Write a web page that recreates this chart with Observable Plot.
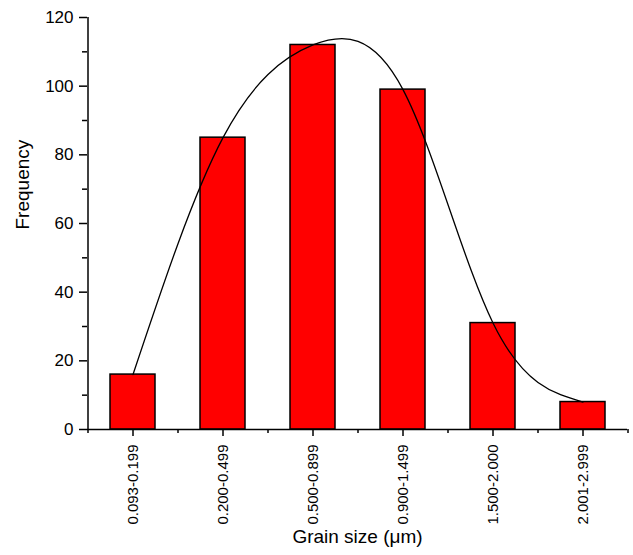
<!DOCTYPE html>
<html>
<head>
<meta charset="utf-8">
<script src="https://cdn.jsdelivr.net/npm/d3@7"></script>
<script src="https://cdn.jsdelivr.net/npm/@observablehq/plot@0.6"></script>
<style>
  html, body { margin: 0; padding: 0; background: white; }
  #chart svg { display: block; }
</style>
</head>
<body>
<div id="chart"></div>
<script>
const categories = ["0.093-0.199", "0.200-0.499", "0.500-0.899", "0.900-1.499", "1.500-2.000", "2.001-2.999"];
const frequency = [16, 85, 112, 99, 31, 8];
const yMajorTicks = [0, 20, 40, 60, 80, 100, 120];
const yMinorTicks = [10, 30, 50, 70, 90, 110];
const xLabel = "Grain size (\u03bcm)";
const yLabel = "Frequency";

const data = categories.map((c, i) => ({range: c, freq: frequency[i]}));

const W = 633, H = 555;
const mL = 87, mR = 6, mT = 17, mB = 126;
const halfStep = (W - mL - mR) / categories.length / 2;

const chart = Plot.plot({
  width: W, height: H,
  marginLeft: mL, marginRight: mR, marginTop: mT, marginBottom: mB,
  style: {fontFamily: "'Liberation Sans', Arial, sans-serif", color: "black", background: "white", overflow: "visible"},
  x: {domain: categories, paddingInner: 0.5, paddingOuter: 0.25, axis: null},
  y: {domain: [0, 120], axis: null},
  marks: [
    Plot.barY(data, {x: "range", y: "freq", fill: "#ff0000", stroke: "black", strokeWidth: 1.5}),
    Plot.line(data, {x: "range", y: "freq", curve: "natural", stroke: "black", strokeWidth: 1.3}),
    Plot.ruleY([0], {stroke: "black", strokeWidth: 1.5}),
    Plot.ruleX([categories[0]], {dx: -halfStep, y1: -1.2, y2: 120, stroke: "black", strokeWidth: 1.5}),
    Plot.ruleX(categories, {x: d => d, dx: halfStep, y1: 0, y2: -1.2, stroke: "black", strokeWidth: 1.5}),
    Plot.axisY({ticks: yMajorTicks, tickSize: 8, tickPadding: 6, fontSize: 17, label: null, strokeWidth: 1.5}),
    Plot.axisY({ticks: yMinorTicks, tickSize: 5, tickFormat: () => "", label: null, strokeWidth: 1.5}),
    Plot.axisX({ticks: categories, tickSize: 7, tickPadding: 8, tickRotate: -90, fontSize: 15, label: null, strokeWidth: 1.5}),
    Plot.text([xLabel], {text: d => d, frameAnchor: "bottom", dy: 113, fontSize: 19}),
    Plot.text([yLabel], {text: d => d, frameAnchor: "left", dx: -65, dy: 6, rotate: -90, fontSize: 19})
  ]
});
document.getElementById("chart").appendChild(chart);
</script>
</body>
</html>
